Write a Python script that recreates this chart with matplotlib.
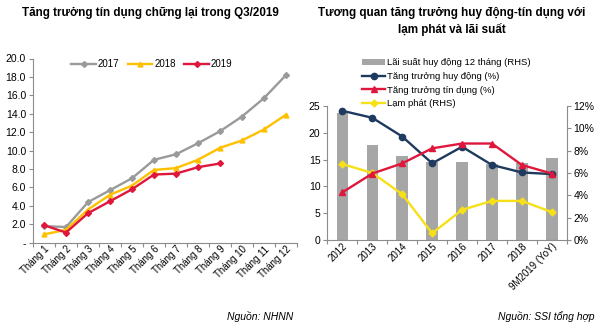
import matplotlib
matplotlib.use("Agg")
import matplotlib.pyplot as plt
import numpy as np

plt.rcParams["font.family"] = ["Liberation Sans", "DejaVu Sans"]

# --- Left chart: credit growth by month (%)
months = ["Tháng 1", "Tháng 2", "Tháng 3", "Tháng 4", "Tháng 5", "Tháng 6",
          "Tháng 7", "Tháng 8", "Tháng 9", "Tháng 10", "Tháng 11", "Tháng 12"]
credit_2017 = [1.8, 1.7, 4.4, 5.7, 7.0, 9.0, 9.6, 10.8, 12.1, 13.7, 15.7, 18.2]
credit_2018 = [0.9, 1.4, 3.6, 5.2, 6.2, 7.9, 8.1, 9.0, 10.3, 11.1, 12.3, 13.9]
credit_2019 = [1.9, 1.1, 3.2, 4.5, 5.8, 7.4, 7.5, 8.2, 8.6]

# --- Right chart
years = ["2012", "2013", "2014", "2015", "2016", "2017", "2018", "9M2019 (YoY)"]
deposit_rate = [11.4, 8.5, 7.5, 7.0, 7.0, 6.8, 6.9, 7.3]      # RHS, %
deposit_growth = [24.1, 22.8, 19.3, 14.3, 17.4, 14.0, 12.6, 12.3]
credit_growth = [8.9, 12.4, 14.3, 17.1, 18.0, 18.0, 14.0, 12.4]
inflation = [6.8, 6.0, 4.1, 0.6, 2.7, 3.5, 3.5, 2.5]            # RHS, %

GRAY = "#9a9a9a"
ORANGE = "#ffc000"
RED = "#e0173c"
NAVY = "#1f3a5f"
YEL = "#f7e017"
SPINE = "#8c8c8c"

fig = plt.figure(figsize=(6, 3.26), dpi=100)


def style_cat_axis(ax, n):
    for s in ("top", "right"):
        ax.spines[s].set_visible(False)
    ax.spines["left"].set_color(SPINE)
    ax.spines["bottom"].set_color(SPINE)
    ax.set_xlim(-0.5, n - 0.5)
    ax.set_xticks(np.arange(n + 1) - 0.5, minor=False)
    ax.set_xticklabels([])
    ax.set_xticks(np.arange(n), minor=True)
    ax.tick_params(axis="x", which="major", length=3, color=SPINE)
    ax.tick_params(axis="x", which="minor", length=0, labelsize=7, pad=1)
    ax.tick_params(axis="y", length=3, color=SPINE, labelsize=7.5, pad=2)


# Left panel
ax1 = fig.add_axes([33 / 600, 1 - 242.7 / 326, 264 / 600, 184.2 / 326])
x1 = np.arange(len(months))
ax1.plot(x1, credit_2017, "-D", color=GRAY, lw=1.7, ms=3, label="2017")
ax1.plot(x1, credit_2018, "-^", color=ORANGE, lw=1.7, ms=3.5, label="2018")
ax1.plot(x1[:len(credit_2019)], credit_2019, "-D", color=RED, lw=1.7, ms=3,
         label="2019")
style_cat_axis(ax1, len(months))
ax1.set_xticklabels(months, minor=True, rotation=45, ha="right",
                    rotation_mode="anchor")
ax1.set_ylim(0, 20)
ax1.set_yticks(np.arange(0, 21, 2))
ax1.set_yticklabels(["-"] + [f"{v:.1f}" for v in range(2, 21, 2)])
ax1.legend(ncol=3, frameon=False, fontsize=7, loc="center",
           bbox_to_anchor=(0.45, 0.97), handlelength=2.5, handletextpad=0.2,
           columnspacing=0.9)
fig.text(150 / 600, 1 - 13 / 326, "Tăng trưởng tín dụng chững lại trong Q3/2019",
         ha="center", va="center", fontsize=8.4, fontweight="bold")
fig.text(293 / 600, 1 - 316 / 326, "Nguồn: NHNN", ha="right", va="center",
         fontsize=7.5, style="italic")

# Right panel
ax2 = fig.add_axes([327.5 / 600, 1 - 240 / 326, 239.2 / 600, 134 / 326])
ax3 = ax2.twinx()
x2 = np.arange(len(years))
bars = ax3.bar(x2, deposit_rate, width=0.39, color="#a6a6a6", zorder=1)
l_dep, = ax2.plot(x2, deposit_growth, "-o", color=NAVY, lw=1.7, ms=4.5,
                  zorder=3)
l_cre, = ax2.plot(x2, credit_growth, "-^", color=RED, lw=1.7, ms=4.5,
                  zorder=3)
l_inf, = ax3.plot(x2, inflation, "-D", color=YEL, lw=1.7, ms=3.5, zorder=3)
ax2.set_zorder(ax3.get_zorder() + 1)
ax2.patch.set_visible(False)

style_cat_axis(ax2, len(years))
ax2.set_xticklabels(years, minor=True, rotation=45, ha="right",
                    rotation_mode="anchor")
ax2.set_ylim(0, 25)
ax2.set_yticks(np.arange(0, 26, 5))
ax3.set_ylim(0, 12)
ax3.set_yticks(np.arange(0, 13, 2))
ax3.set_yticklabels([f"{v}%" for v in range(0, 13, 2)])
for s in ("top", "left", "bottom"):
    ax3.spines[s].set_visible(False)
ax3.spines["right"].set_color(SPINE)
ax3.tick_params(axis="y", length=3, color=SPINE, labelsize=7.5, pad=2)

ax2.legend([bars.patches[0], l_dep, l_cre, l_inf],
           ["Lãi suất huy động 12 tháng (RHS)", "Tăng trưởng huy động (%)",
            "Tăng trưởng tín dụng (%)", "Lạm phát (RHS)"],
           frameon=False, fontsize=6.8, loc="upper left",
           bbox_to_anchor=(0.13, 1.385), handlelength=2.4, handletextpad=0.2,
           labelspacing=0.5, borderaxespad=0)
fig.text(452 / 600, 1 - 13 / 326, "Tương quan tăng trưởng huy động-tín dụng với",
         ha="center", va="center", fontsize=8.4, fontweight="bold")
fig.text(452 / 600, 1 - 29 / 326, "lạm phát và lãi suất",
         ha="center", va="center", fontsize=8.4, fontweight="bold")
fig.text(595 / 600, 1 - 316 / 326, "Nguồn: SSI tổng hợp", ha="right",
         va="center", fontsize=7.5, style="italic")

fig.savefig("out.png", dpi=100)
